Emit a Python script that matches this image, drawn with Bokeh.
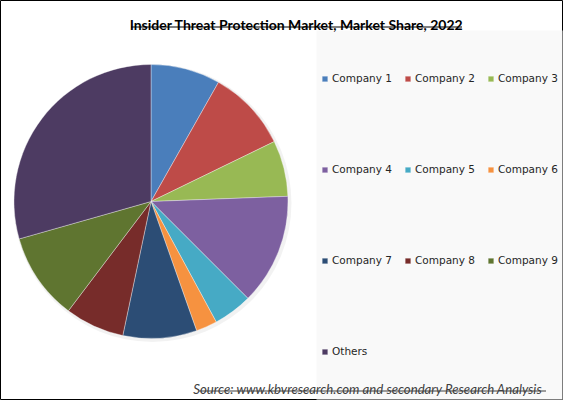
import numpy as np
from bokeh.plotting import figure
from bokeh.models import ColumnDataSource, Range1d, BoxAnnotation
from bokeh.embed import file_html
from bokeh.resources import INLINE
from bokeh.core.properties import value

# ---- data ----
labels = ["Company 1", "Company 2", "Company 3", "Company 4", "Company 5",
          "Company 6", "Company 7", "Company 8", "Company 9", "Others"]
shares = [8.2, 9.6, 6.6, 13.1, 4.6, 2.5, 8.7, 7.0, 10.3, 29.4]
colors = ["#4A7EBB", "#BE4B48", "#98B954", "#7D60A0", "#46AAC5",
          "#F69240", "#2C4D75", "#772C2A", "#5F7530", "#4D3B62"]
title_text = "Insider Threat Protection Market, Market Share, 2022"
source_text = "Source:  www.kbvresearch.com  and secondary Research  Analysis"

# ---- layout (pixel-based data space, y up) ----
W, H = 563, 400
CX, CY, R = 150.5, 199, 137

vals = np.array(shares, dtype=float)
frac = vals / vals.sum()
cum = np.concatenate([[0], np.cumsum(frac)[:-1]])
start = np.pi / 2 - cum * 2 * np.pi
end = start - frac * 2 * np.pi

src = ColumnDataSource(dict(label=labels, start=start, end=end, color=colors))

p = figure(width=W, height=H, x_range=Range1d(0, W), y_range=Range1d(0, H),
           x_axis_type=None, y_axis_type=None, output_backend="svg",
           toolbar_location=None, min_border=0)
p.grid.visible = False
p.outline_line_color = "black"
p.outline_line_width = 1
p.background_fill_color = "white"
p.border_fill_color = "white"

# light panel behind legend
p.add_layout(BoxAnnotation(left=316, right=W - 1, top=370, bottom=1,
                           fill_color="#f9f9f9", fill_alpha=1, line_color=None,
                           level="underlay"))

# faint shadow
p.circle(x=[CX + 1.5], y=[CY - 1.5], radius=R + 2, fill_color="#000000",
         fill_alpha=0.05, line_color=None)

p.wedge(x=CX, y=CY, radius=R, start_angle="start", end_angle="end",
        direction="clock", fill_color="color", line_color="white",
        line_width=0.6, line_alpha=0.6, source=src, legend_field="label")

leg = p.legend[0]
leg.orientation = "horizontal"
leg.ncols = 3
leg.location = (321, 9.5)
leg.padding = 0
leg.margin = 0
leg.spacing = 12
leg.label_height = 79
leg.glyph_height = 7
leg.glyph_width = 7
leg.label_standoff = 4
leg.label_text_font = "DejaVu Sans"
leg.label_text_font_size = "10.5px"
leg.label_text_color = "#262626"
leg.border_line_color = None
leg.background_fill_alpha = 0

# title
p.text(x=[296], y=[376], text=[title_text], text_font=value("Lato"),
       text_font_style="bold", text_font_size="14px", text_align="center",
       text_baseline="alphabetic", text_color="#000000")
p.segment(x0=[296 - 165.5], x1=[296 + 165.5], y0=[373.5], y1=[373.5],
          line_color="#000000", line_width=1)

# source
p.text(x=[372], y=[12], text=[source_text], text_font=value("Lato"),
       text_font_style="italic", text_font_size="13.2px", text_align="center",
       text_baseline="alphabetic", text_color="#404040")
p.segment(x0=[372 - 173.5], x1=[372 + 173.5], y0=[9.5], y1=[9.5],
          line_color="#404040", line_width=1)

open("out.html", "w").write(file_html(p, INLINE))
